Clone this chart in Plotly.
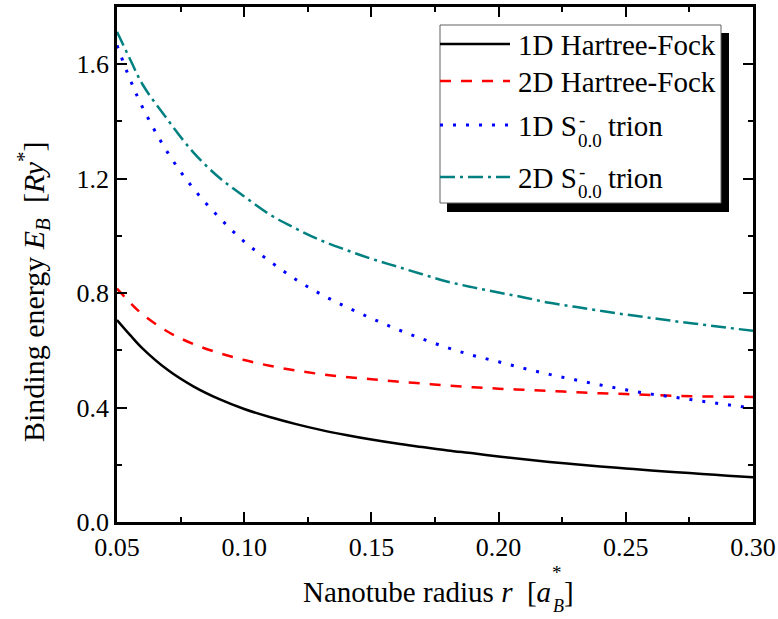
import plotly.graph_objects as go

# ---------------- data ----------------
radius = [0.05, 0.055, 0.06, 0.07, 0.08, 0.09, 0.10, 0.11, 0.12, 0.13, 0.14, 0.15,
          0.16, 0.17, 0.18, 0.19, 0.20, 0.21, 0.22, 0.23, 0.24, 0.25, 0.26, 0.27,
          0.28, 0.29, 0.30]
hf_1d = [0.706, 0.655, 0.607, 0.531, 0.474, 0.430, 0.395, 0.367, 0.343, 0.322, 0.304, 0.288,
         0.274, 0.262, 0.250, 0.240, 0.229, 0.219, 0.210, 0.202, 0.194, 0.187, 0.180, 0.174,
         0.168, 0.162, 0.156]
hf_2d = [0.816, 0.768, 0.726, 0.665, 0.622, 0.591, 0.566, 0.546, 0.530, 0.517, 0.507, 0.499,
         0.491, 0.484, 0.477, 0.471, 0.466, 0.462, 0.458, 0.454, 0.450, 0.447, 0.444, 0.441,
         0.439, 0.438, 0.437]
trion_1d = [1.666, 1.550, 1.450, 1.290, 1.166, 1.066, 0.980, 0.912, 0.849, 0.797, 0.752, 0.712,
            0.674, 0.640, 0.609, 0.582, 0.560, 0.537, 0.516, 0.497, 0.479, 0.462, 0.447, 0.435,
            0.422, 0.410, 0.398]
trion_2d = [1.713, 1.620, 1.530, 1.405, 1.292, 1.205, 1.138, 1.075, 1.027, 0.985, 0.951, 0.920,
            0.893, 0.866, 0.840, 0.820, 0.802, 0.785, 0.766, 0.752, 0.738, 0.725, 0.713, 0.701,
            0.690, 0.679, 0.668]

series_names = ["1D Hartree-Fock", "2D Hartree-Fock", "1D S⁻₀.₀ trion", "2D S⁻₀.₀ trion"]
legend_main = ["1D Hartree-Fock", "2D Hartree-Fock", "1D S", "2D S"]
legend_sub = ["", "", "0.0", "0.0"]
legend_sup = ["", "", "-", "-"]
legend_tail = ["", "", "trion", "trion"]

x_tickvals = [0.05, 0.10, 0.15, 0.20, 0.25, 0.30]
x_ticktext = ["0.05", "0.10", "0.15", "0.20", "0.25", "0.30"]
y_tickvals = [0.0, 0.4, 0.8, 1.2, 1.6]
y_ticktext = ["0.0", "0.4", "0.8", "1.2", "1.6"]

# ---------------- styling ----------------
FONT = "Liberation Serif"
TICKFONT = dict(family="Liberation Serif", size=26, color="black")
colors = ["#000000", "#FF0000", "#0000FF", "#008080"]
dashes = ["solid", "11px,10px", "3px,10px", "15px,5px,3px,5px"]
widths = [2.5, 2.5, 3, 2.5]

W, H = 778, 619
L, R, T, B = 117, 25, 7, 97
PW, PH = W - L - R, H - T - B


def px2x(px):
    return (px - L) / PW


def py2y(py):
    return (H - B - py) / PH


fig = go.Figure()
for ys, name, c, d, w in zip([hf_1d, hf_2d, trion_1d, trion_2d], series_names, colors, dashes, widths):
    fig.add_trace(go.Scatter(x=radius, y=ys, name=name, mode="lines", showlegend=False,
                             line=dict(color=c, dash=d, width=w, shape="spline", smoothing=1.0)))

minor_x = [(a + b) / 2 for a, b in zip(x_tickvals[:-1], x_tickvals[1:])]
minor_y = [(a + b) / 2 for a, b in zip(y_tickvals[:-1], y_tickvals[1:])]

axis_common = dict(showgrid=False, zeroline=False, showline=True, linecolor="black", linewidth=2.5,
                   mirror="ticks", ticks="inside", ticklen=10, tickwidth=2, tickcolor="black",
                   tickfont=TICKFONT)

# ---------------- custom legend (box with shadow) ----------------
shapes = [
    dict(type="rect", xref="paper", yref="paper", x0=px2x(447), x1=px2x(729), y0=py2y(212), y1=py2y(33),
         fillcolor="black", line=dict(width=0), layer="above"),
    dict(type="rect", xref="paper", yref="paper", x0=px2x(440), x1=px2x(721), y0=py2y(203), y1=py2y(25),
         fillcolor="white", line=dict(color="#606060", width=1), layer="above"),
]
row_line_y = [44, 81, 125, 177]
annotations = []
for i in range(4):
    shapes.append(dict(type="line", xref="paper", yref="paper", x0=px2x(440), x1=px2x(510),
                       y0=py2y(row_line_y[i]), y1=py2y(row_line_y[i]), layer="above",
                       line=dict(color=colors[i], dash=dashes[i], width=widths[i])))
    yc = row_line_y[i] + 1
    annotations.append(dict(xref="paper", yref="paper", x=px2x(516), y=py2y(yc), xanchor="left",
                            yanchor="middle", showarrow=False, text=legend_main[i],
                            font=dict(family=FONT, size=29, color="black")))
    if legend_sub[i]:
        annotations.append(dict(xref="paper", yref="paper", x=px2x(576), y=py2y(yc + 14), xanchor="left",
                                yanchor="middle", showarrow=False, text=legend_sub[i],
                                font=dict(family=FONT, size=19, color="black")))
        annotations.append(dict(xref="paper", yref="paper", x=px2x(577), y=py2y(yc - 6), xanchor="left",
                                yanchor="middle", showarrow=False, text=legend_sup[i],
                                font=dict(family=FONT, size=19, color="black")))
        annotations.append(dict(xref="paper", yref="paper", x=px2x(606), y=py2y(yc), xanchor="left",
                                yanchor="middle", showarrow=False, text=legend_tail[i],
                                font=dict(family=FONT, size=29, color="black")))

# ---------------- axis titles ----------------
annotations += [
    dict(xref="paper", yref="paper", x=px2x(553), y=py2y(592), xanchor="right", yanchor="middle",
         showarrow=False, text="Nanotube radius <i>r</i>&nbsp;&nbsp;[<i>a</i>",
         font=dict(family=FONT, size=29, color="black")),
    dict(xref="paper", yref="paper", x=px2x(557), y=py2y(572), xanchor="center", yanchor="middle",
         showarrow=False, text="*", font=dict(family=FONT, size=19, color="black")),
    dict(xref="paper", yref="paper", x=px2x(558), y=py2y(606), xanchor="center", yanchor="middle",
         showarrow=False, text="<i>B</i>", font=dict(family=FONT, size=18, color="black")),
    dict(xref="paper", yref="paper", x=px2x(562), y=py2y(592), xanchor="left", yanchor="middle",
         showarrow=False, text="]", font=dict(family=FONT, size=29, color="black")),
    dict(xref="paper", yref="paper", x=px2x(33), y=py2y(292), xanchor="center", yanchor="middle",
         textangle=-90, showarrow=False,
         text="Binding energy <i>E</i><sub><i>B</i></sub>&nbsp;&nbsp;[<i>Ry</i><sup>*</sup>]",
         font=dict(family=FONT, size=30, color="black")),
]

fig.update_layout(
    width=W, height=H, margin=dict(l=L, r=R, t=T, b=B, autoexpand=False),
    paper_bgcolor="white", plot_bgcolor="white", showlegend=False,
    font=dict(family=FONT, color="black"),
    xaxis=dict(range=[0.05, 0.30], tickmode="array", tickvals=x_tickvals, ticktext=x_ticktext,
               minor=dict(tickvals=minor_x, ticks="inside", ticklen=5, tickwidth=2, tickcolor="black"),
               **axis_common),
    yaxis=dict(range=[0, 1.8], tickmode="array", tickvals=y_tickvals, ticktext=y_ticktext,
               minor=dict(tickvals=minor_y, ticks="inside", ticklen=5, tickwidth=2, tickcolor="black"),
               **axis_common),
    shapes=shapes, annotations=annotations)

fig.write_html("out.html", config={"displayModeBar": False},
               post_script="document.body.style.margin='0px';")
